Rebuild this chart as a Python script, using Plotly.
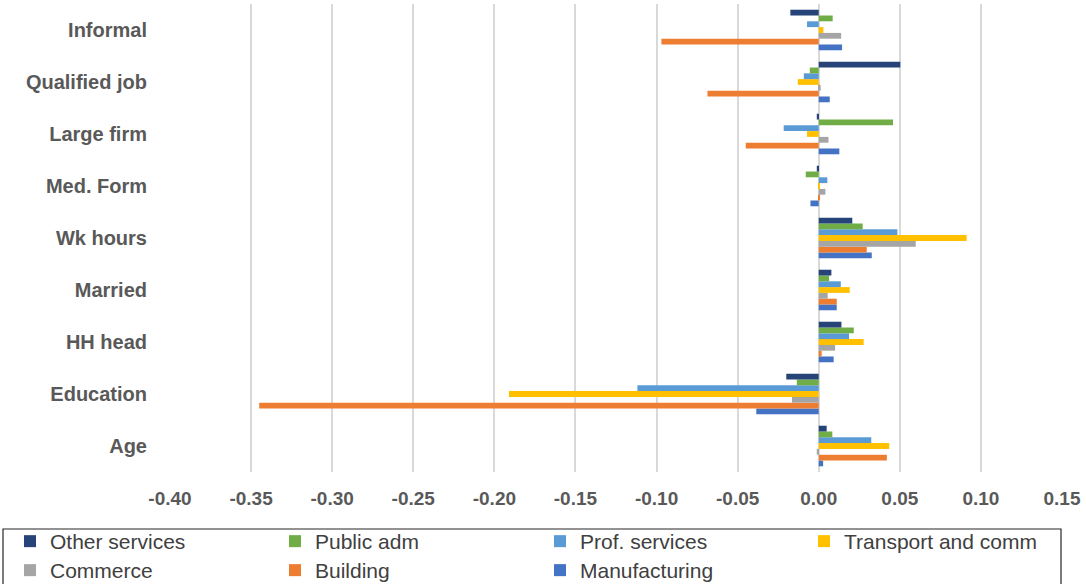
import plotly.graph_objects as go

categories = ["Age", "Education", "HH head", "Married", "Wk hours",
              "Med. Form", "Large firm", "Qualified job", "Informal"]

# values listed in category order above (bottom to top)
manufacturing = [0.0027, -0.0385, 0.0092, 0.0111, 0.0327, -0.0051, 0.0127, 0.0068, 0.0144]
building      = [0.0420, -0.3450, 0.0018, 0.0111, 0.0296, 0.0004, -0.0450, -0.0686, -0.0970]
commerce      = [-0.0012, -0.0165, 0.0101, 0.0055, 0.0598, 0.0041, 0.0060, 0.0012, 0.0138]
transport     = [0.0435, -0.1910, 0.0277, 0.0191, 0.0912, 0.0003, -0.0072, -0.0129, 0.0029]
prof_services = [0.0324, -0.1118, 0.0187, 0.0136, 0.0485, 0.0053, -0.0216, -0.0092, -0.0072]
public_adm    = [0.0084, -0.0135, 0.0216, 0.0064, 0.0271, -0.0080, 0.0458, -0.0055, 0.0086]
other_serv    = [0.0049, -0.0200, 0.0140, 0.0078, 0.0207, -0.0012, -0.0012, 0.0503, -0.0175]

# (name, values, colour, legend row-group)
series = [
    ("Manufacturing", manufacturing, "#4472C4", "legend3"),
    ("Building", building, "#ED7D31", "legend3"),
    ("Commerce", commerce, "#A5A5A5", "legend3"),
    ("Transport and comm", transport, "#FFC000", "legend2"),
    ("Prof. services", prof_services, "#5B9BD5", "legend"),
    ("Public adm", public_adm, "#70AD47", "legend"),
    ("Other services", other_serv, "#264478", "legend"),
]

x_ticks = [-0.40, -0.35, -0.30, -0.25, -0.20, -0.15, -0.10, -0.05, 0.00, 0.05, 0.10, 0.15]

FONT = "Liberation Sans, Arial, sans-serif"
W, H = 1086, 584
ML, MR, MT, MB = 170, 24, 4, 112
PW, PH = W - ML - MR, H - MT - MB

fig = go.Figure()
for name, vals, col, lg in series:
    fig.add_trace(go.Bar(y=categories, x=vals, name=name, orientation="h",
                         legend=lg,
                         marker=dict(color=col, line=dict(width=0))))

def leg(xpx, ypx):
    return dict(orientation="h", traceorder="reversed",
                xref="container", yref="container",
                x=xpx / W, y=1 - ypx / H, xanchor="left", yanchor="top",
                entrywidth=220, entrywidthmode="pixels",
                borderwidth=0, bgcolor="rgba(0,0,0,0)",
                font=dict(size=21, color="#404040", family=FONT),
                itemwidth=30, tracegroupgap=0)

fig.update_layout(
    width=W, height=H,
    margin=dict(l=ML, r=MR, t=MT, b=MB),
    barmode="group", bargap=0.22, bargroupgap=0,
    plot_bgcolor="white", paper_bgcolor="white",
    font=dict(family=FONT, color="#595959"),
    legend=leg(10, 521),
    legend2=leg(804, 521),
    legend3=leg(10, 550),
    shapes=[dict(type="rect", xref="paper", yref="paper",
                 x0=(3 - ML) / PW, x1=(1061 - ML) / PW,
                 y0=(MT + PH - 529) / PH, y1=(MT + PH - 600) / PH,
                 line=dict(color="#262626", width=1.2),
                 fillcolor="rgba(0,0,0,0)", layer="below")],
)
fig.update_xaxes(range=[-0.40, 0.15], tickvals=x_ticks,
                 ticktext=[f"{v:.2f}" for v in x_ticks],
                 showgrid=True, gridcolor="#D9D9D9", gridwidth=2,
                 zeroline=True, zerolinecolor="#D9D9D9", zerolinewidth=2,
                 tickfont=dict(size=19, color="#595959", family=FONT),
                 ticks="outside", ticklen=9, tickcolor="rgba(0,0,0,0)",
                 showline=False)
fig.update_yaxes(categoryorder="array", categoryarray=categories,
                 tickfont=dict(size=20, color="#595959", family=FONT),
                 ticks="outside", ticklen=18, tickcolor="rgba(0,0,0,0)",
                 showline=False, showgrid=False)
fig.for_each_xaxis(lambda a: a.update(tickfont_weight="bold"))
fig.for_each_yaxis(lambda a: a.update(tickfont_weight="bold"))

fig.write_html("out.html")
